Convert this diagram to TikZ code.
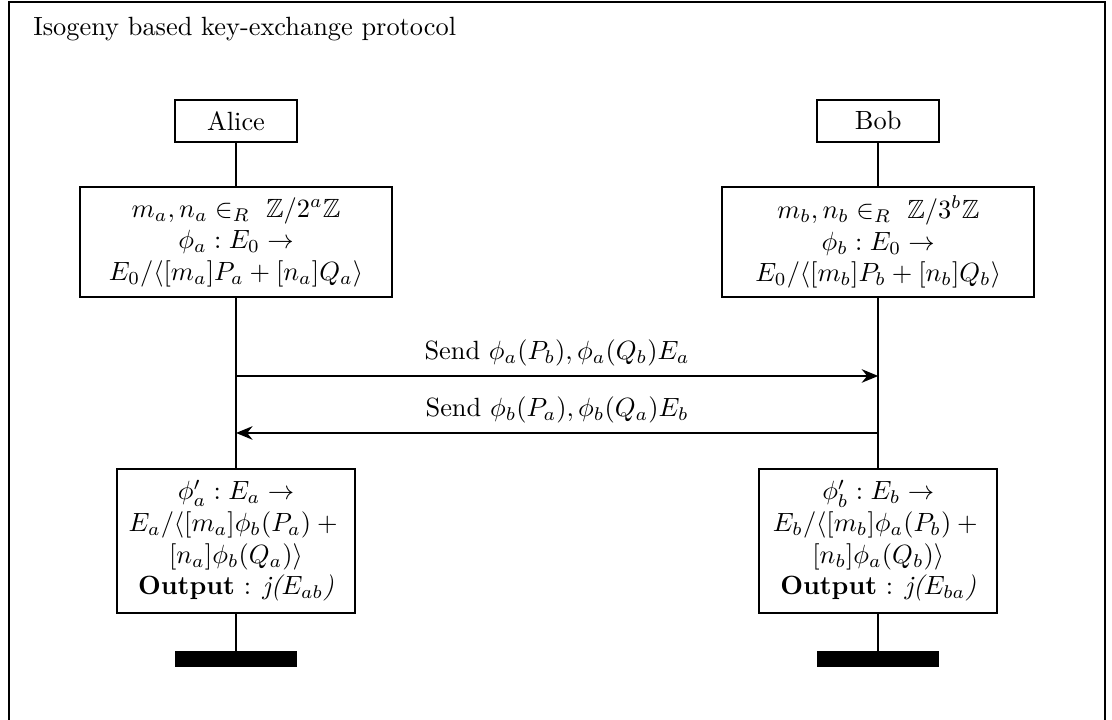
\documentclass[tikz,border=0pt]{standalone}
\usepackage{amsmath,amssymb}
\usetikzlibrary{arrows.meta, positioning}

\begin{document}
\begin{tikzpicture}[
  inst/.style={draw, thick, minimum width=1.63cm, minimum height=0.56cm, inner sep=2pt},
  block/.style={draw, thick, align=center, inner sep=3pt},
  lifeline/.style={semithick},
  msg/.style={thick, -{Stealth[length=2.2mm, width=1.8mm]}},
  endbar/.style={fill=black, minimum width=1.63cm, minimum height=0.21cm, inner sep=0pt},
]

\def\xa{3.147}
\def\xb{11.71}
\def\ya{-5.013}
\def\yb{-5.773}

\useasboundingbox (0,0) rectangle (14.827,-9.587);
\draw[thick] (0.12,-10) -- (0.12,-0.027) -- (14.733,-0.027) -- (14.733,-10);

\node[anchor=base west] (title) at (0.32,-0.467) {Isogeny based key-exchange protocol};

\node[inst] (alice) at (\xa,-1.613) {Alice};
\node[inst] (bob) at (\xb,-1.613) {Bob};

\node[block, minimum width=4.16cm, minimum height=1.47cm] (alicekey) at (\xa,-3.23)
    {$m_a, n_a \in_R\ \mathbb{Z}/2^a\mathbb{Z}$\\
     $\phi_a : E_0 \rightarrow$\\
     $E_0/\langle [m_a]P_a + [n_a]Q_a\rangle$};
\node[block, minimum width=4.16cm, minimum height=1.47cm] (bobkey) at (\xb,-3.23)
    {$m_b, n_b \in_R\ \mathbb{Z}/3^b\mathbb{Z}$\\
     $\phi_b : E_0 \rightarrow$\\
     $E_0/\langle [m_b]P_b + [n_b]Q_b\rangle$};

\node[block, minimum width=3.17cm, minimum height=1.92cm] (aliceiso) at (\xa,-7.21)
    {$\phi'_a : E_a \rightarrow$\\
     $E_a/\langle [m_a]\phi_b(P_a) +{}$\\
     $[n_a]\phi_b(Q_a)\rangle$\\
     \textbf{Output} : \textit{j($E_{ab}$)}};
\node[block, minimum width=3.17cm, minimum height=1.92cm] (bobiso) at (\xb,-7.21)
    {$\phi'_b : E_b \rightarrow$\\
     $E_b/\langle [m_b]\phi_a(P_b) +{}$\\
     $[n_b]\phi_a(Q_b)\rangle$\\
     \textbf{Output} : \textit{j($E_{ba}$)}};

\node[endbar] (aliceend) at (\xa,-8.79) {};
\node[endbar] (bobend) at (\xb,-8.79) {};

\draw[lifeline] (alice) -- (alicekey) -- (aliceiso) -- (aliceend);
\draw[lifeline] (bob) -- (bobkey) -- (bobiso) -- (bobend);

\coordinate (asend) at (\xa,\ya);
\coordinate (brecv) at (\xb,\ya);
\coordinate (bsend) at (\xb,\yb);
\coordinate (arecv) at (\xa,\yb);

\draw[msg] (asend) -- node[above] {Send $\phi_a(P_b), \phi_a(Q_b)E_a$} (brecv);
\draw[msg] (bsend) -- node[above] {Send $\phi_b(P_a), \phi_b(Q_a)E_b$} (arecv);

\end{tikzpicture}
\end{document}
